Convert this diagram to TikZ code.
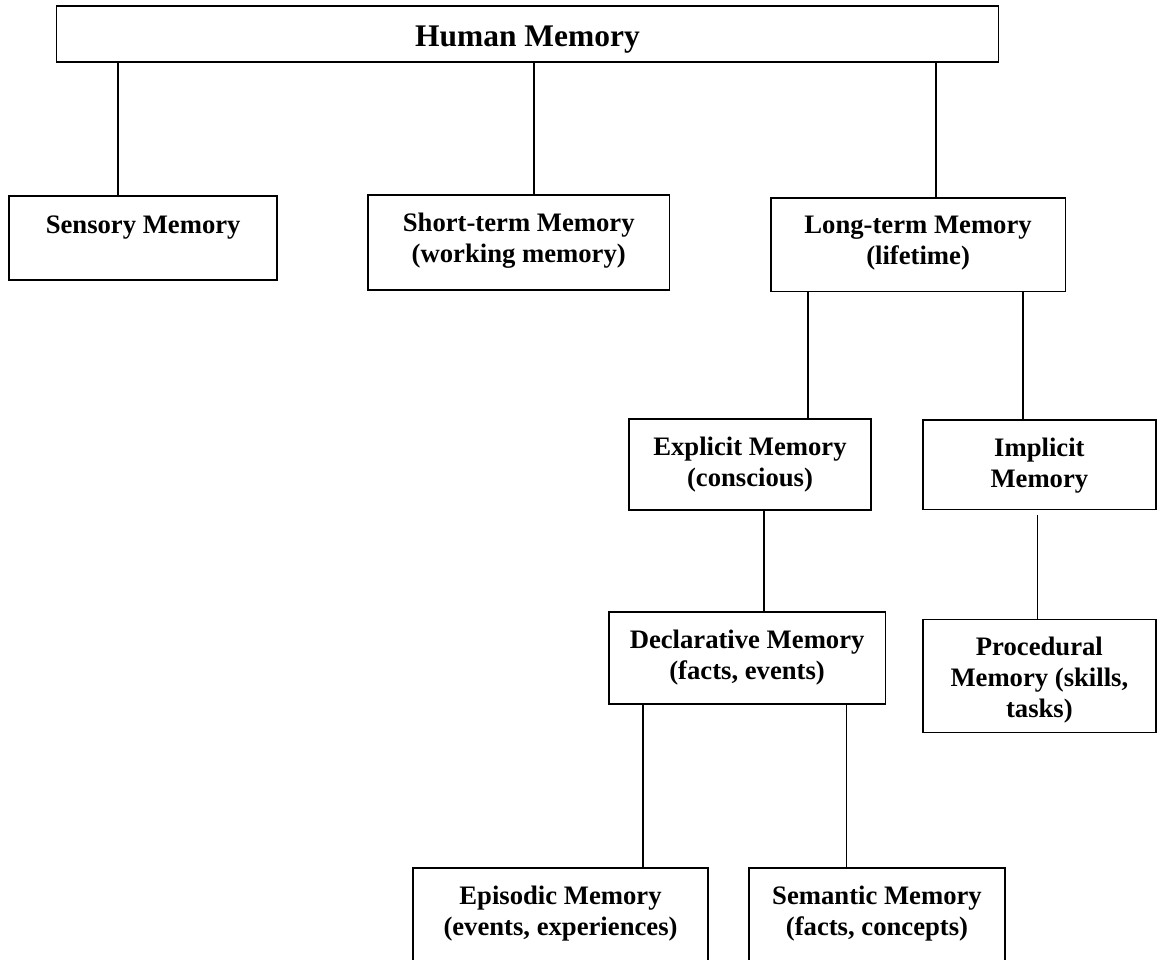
\documentclass[tikz,border=0pt]{standalone}
\usepackage{fontspec}
\setmainfont{Liberation Serif}
\begin{document}
\begin{tikzpicture}[x=0.75pt,y=-0.75pt,
  box/.style={draw=black, line width=1.4pt, fill=none, inner sep=0pt, outer sep=0pt, anchor=north west},
  lbl/.style={anchor=base, inner sep=0pt, font=\fontsize{20}{23.25}\selectfont\bfseries},
  biglbl/.style={anchor=base, inner sep=0pt, font=\fontsize{23.6}{28}\selectfont\bfseries},
  link/.style={draw=black, line width=1.3pt},
  thinlink/.style={draw=black, line width=0.8pt}]
\useasboundingbox (0,0) rectangle (1157,960);
\fill[white] (0,0) rectangle (1157,960);

% boxes
\node[box, minimum width=706.5pt, minimum height=42.2pt] (top) at (56.5,6) {};
\node[box, minimum width=200.8pt, minimum height=63pt] (sensory) at (9.3,196) {};
\node[box, minimum width=226.1pt, minimum height=71.25pt] (short) at (368,195) {};
\node[box, minimum width=221.2pt, minimum height=70.1pt] (long) at (770.6,198) {};
\node[box, minimum width=181.5pt, minimum height=68.25pt] (explicit) at (629,419) {};
\node[box, minimum width=175pt, minimum height=67.1pt] (implicit) at (922.7,420) {};
\node[box, minimum width=207.6pt, minimum height=69pt] (decl) at (608.7,612) {};
\node[box, minimum width=175pt, minimum height=84.75pt] (proc) at (922.7,619.5) {};
\node[box, minimum width=221.25pt, minimum height=105pt] (epi) at (413,868) {};
\node[box, minimum width=192pt, minimum height=105pt] (sem) at (749,868) {};

% labels
\node[biglbl] (topT) at (top.north |- 0,46.7) {Human Memory};
\node[lbl] (sensoryT) at (sensory.north |- 0,233) {Sensory Memory};
\node[lbl] (shortT) at (short.north |- 0,231) {\begin{tabular}[t]{@{}c@{}}Short-term Memory\\(working memory)\end{tabular}};
\node[lbl] (longT) at (long.north |- 0,233) {\begin{tabular}[t]{@{}c@{}}Long-term Memory\\(lifetime)\end{tabular}};
\node[lbl] (explicitT) at (explicit.north |- 0,455) {\begin{tabular}[t]{@{}c@{}}Explicit Memory\\(conscious)\end{tabular}};
\node[lbl] (implicitT) at (implicit.north |- 0,456.7) {\begin{tabular}[t]{@{}c@{}}Implicit\\Memory\end{tabular}};
\node[lbl] (declT) at (decl.north |- 0,648) {\begin{tabular}[t]{@{}c@{}}Declarative Memory\\(facts, events)\end{tabular}};
\node[lbl] (procT) at (proc.north |- 0,655) {\begin{tabular}[t]{@{}c@{}}Procedural\\Memory (skills,\\tasks)\end{tabular}};
\node[lbl] (epiT) at (epi.north |- 0,904) {\begin{tabular}[t]{@{}c@{}}Episodic Memory\\(events, experiences)\end{tabular}};
\node[lbl] (semT) at (sem.north |- 0,904) {\begin{tabular}[t]{@{}c@{}}Semantic Memory\\(facts, concepts)\end{tabular}};

% connectors
\draw[link] ([xshift=-18.86pt]sensory.north) -- ([xshift=-18.86pt]sensory.north |- top.south);
\draw[thinlink] ([xshift=11.44pt]short.north) -- ([xshift=11.44pt]short.north |- top.south);
\draw[link] ([xshift=13.46pt]long.north) -- ([xshift=13.46pt]long.north |- top.south);
\draw[link] ([xshift=43.5pt]explicit.north) -- ([xshift=43.5pt]explicit.north |- long.south);
\draw[link] ([xshift=-12.26pt]implicit.north) -- ([xshift=-12.26pt]implicit.north |- long.south);
\draw[link] ([xshift=12.68pt]decl.north) -- ([xshift=12.68pt]decl.north |- explicit.south);
\draw[link, shorten >=4pt] ([xshift=-1.39pt]proc.north) -- ([xshift=-1.39pt]proc.north |- implicit.south);
\draw[link] ([xshift=61.9pt]epi.north) -- ([xshift=61.9pt]epi.north |- decl.south);
\draw[link] ([xshift=-22.9pt]sem.north) -- ([xshift=-22.9pt]sem.north |- decl.south);
\end{tikzpicture}
\end{document}
